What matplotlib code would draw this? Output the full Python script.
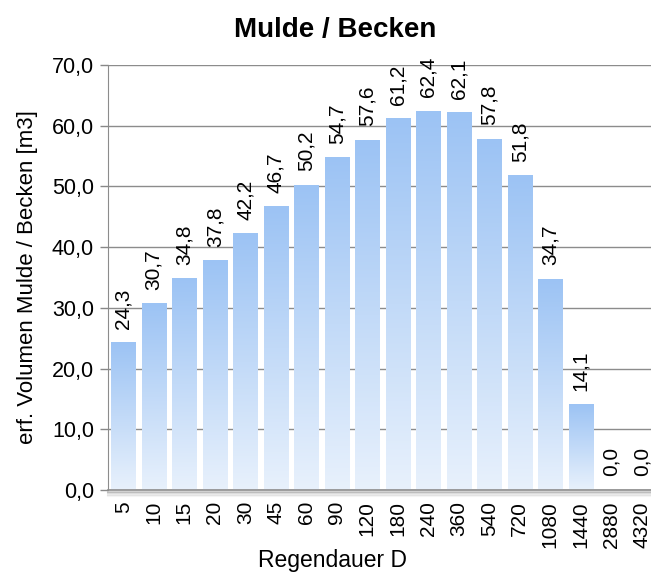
import numpy as np
import matplotlib.pyplot as plt
from matplotlib.colors import LinearSegmentedColormap

plt.rcParams['font.family'] = ['Liberation Sans', 'DejaVu Sans']

# === Data ===
dauer = ["5", "10", "15", "20", "30", "45", "60", "90", "120", "180",
         "240", "360", "540", "720", "1080", "1440", "2880", "4320"]
volumen = [24.3, 30.7, 34.8, 37.8, 42.2, 46.7, 50.2, 54.7, 57.6, 61.2,
           62.4, 62.1, 57.8, 51.8, 34.7, 14.1, 0.0, 0.0]

fig = plt.figure(figsize=(6.51, 5.73), dpi=100)
ax = fig.add_axes([108 / 651, 1 - 490 / 573, 549 / 651, 425 / 573])

# vertical gradient per bar (dark at top, light at bottom)
cmap = LinearSegmentedColormap.from_list("bar", ["#e8f1fc", "#9cc3f4"])
grad = np.linspace(0, 1, 256).reshape(-1, 1)
x = np.arange(len(dauer))
width = 0.8

for xi, v in zip(x, volumen):
    if v > 0:
        ax.imshow(grad, cmap=cmap, origin="lower", aspect="auto",
                  extent=(xi - width / 2, xi + width / 2, 0, v), zorder=2)
    lbl = f"{v:.1f}".replace(".", ",")
    ax.annotate(lbl, (xi, v), xytext=(0, 10), textcoords="offset points",
                rotation=90, ha="center", va="bottom", fontsize=15)

ax.set_xlim(-0.5, len(dauer) - 0.5)
ax.set_ylim(0, 70)
ax.set_yticks(np.arange(0, 71, 10))
ax.set_yticklabels([f"{t:.1f}".replace(".", ",") for t in np.arange(0, 71, 10)], fontsize=15.5)
ax.set_xticks(x)
ax.set_xticklabels(dauer, rotation=90, fontsize=15)
ax.tick_params(axis="x", length=0, pad=8)
ax.tick_params(axis="y", length=6, color="#888888", width=1, pad=4)
ax.grid(axis="y", color="#8c8c8c", linewidth=1, zorder=1)
ax.set_axisbelow(True)

for s in ["top", "right"]:
    ax.spines[s].set_visible(False)
ax.spines["left"].set_color("#8c8c8c")
ax.spines["bottom"].set_color("#8c8c8c")
ax.spines["bottom"].set_linewidth(1.2)

# soft shadow under the bottom axis
for i, a in enumerate([0.35, 0.25, 0.15, 0.08]):
    ax.plot([-0.5, len(dauer) - 0.5], [-0.25 * (i + 1)] * 2, color="gray",
            alpha=a, linewidth=1.5, clip_on=False, zorder=0)

ax.set_ylabel("erf. Volumen Mulde / Becken [m3]", fontsize=16, labelpad=10)
ax.set_xlabel("Regendauer D", fontsize=16.5)
ax.xaxis.label.set_va("center")
ax.xaxis.set_label_coords((333 - 108) / 549, -(560 - 490) / 425)
fig.text(335 / 651, 1 - 30 / 573, "Mulde / Becken", ha="center", va="center",
         fontsize=20, fontweight="bold")

fig.savefig("out.png", dpi=100)
